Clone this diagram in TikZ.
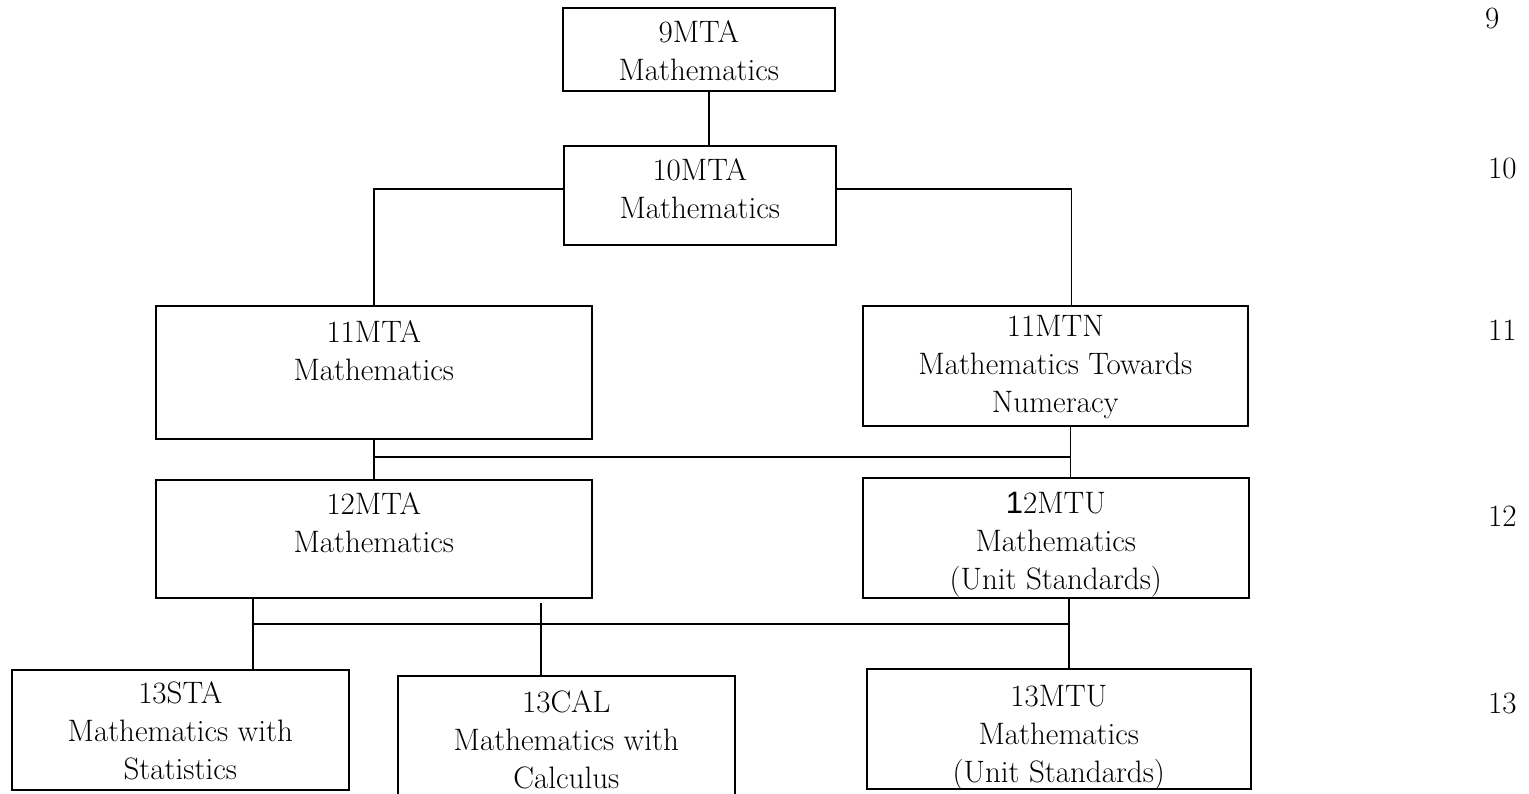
\documentclass[tikz,border=0pt]{standalone}
\usepackage{fontspec}
\newfontfamily\onefont{Liberation Sans}
\begin{document}
\begin{tikzpicture}[x=1pt,y=-1pt,
  box/.style={draw, line width=1.6pt, rectangle, inner sep=0pt, anchor=north west},
  lbl/.style={align=center, font=\fontsize{31pt}{38pt}\selectfont, anchor=base, inner sep=0pt},
  lvl/.style={font=\fontsize{31pt}{36pt}\selectfont, anchor=base west, inner sep=0pt},
  link/.style={line width=1.6pt}]
\useasboundingbox (0,0) rectangle (1529,793);
\clip (0,0) rectangle (1529,793);

% boxes
\node[box, minimum width=272pt, minimum height=83pt]  (b9)   at (562,7)   {};
\node[box, minimum width=272pt, minimum height=99pt]  (b10)  at (563,145) {};
\node[box, minimum width=436pt, minimum height=133pt] (b11a) at (155,305) {};
\node[box, minimum width=385pt, minimum height=120pt] (b11n) at (862,305) {};
\node[box, minimum width=436pt, minimum height=118pt] (b12a) at (155,479) {};
\node[box, minimum width=386pt, minimum height=120pt] (b12u) at (862,477) {};
\node[box, minimum width=337pt, minimum height=120pt] (b13s) at (11,669)  {};
\node[box, minimum width=337pt, minimum height=140pt] (b13c) at (397,675) {};
\node[box, minimum width=384pt, minimum height=120pt] (b13m) at (866,668) {};

% texts (anchor = baseline of last line)
\node[lbl] (t9)   at ([yshift=-73pt]b9.north)   {9MTA\\Mathematics};
\node[lbl] (t10)  at ([yshift=-73pt]b10.north)  {10MTA\\Mathematics};
\node[lbl] (t11a) at ([yshift=-75pt]b11a.north) {11MTA\\Mathematics};
\node[lbl] (t11n) at ([yshift=-107pt]b11n.north) {11MTN\\Mathematics Towards\\Numeracy};
\node[lbl] (t12a) at ([yshift=-73pt]b12a.north) {12MTA\\Mathematics};
\node[lbl] (t12u) at ([yshift=-112pt]b12u.north) {{\onefont 1}2MTU\\Mathematics\\(Unit Standards)};
\node[lbl] (t13s) at ([yshift=-110pt]b13s.north) {13STA\\Mathematics with\\Statistics};
\node[lbl] (t13c) at ([yshift=-113pt]b13c.north) {13CAL\\Mathematics with\\Calculus};
\node[lbl] (t13m) at ([yshift=-114pt]b13m.north) {13MTU\\Mathematics\\(Unit Standards)};

% level numbers
\node[lvl] (l9)  at (1485,28)  {9};
\node[lvl] (l10) at (1488,178) {10};
\node[lvl] (l11) at (1488,340) {11};
\node[lvl] (l12) at (1488,526) {12};
\node[lvl] (l13) at (1488,713) {13};

% connectors
\draw[link] ([xshift=10pt]b9.south) -- ([xshift=10pt]b9.south |- b10.north);
\draw[link] ([yshift=6.5pt]b10.west) -| (b11a.north);
\draw[link] ([yshift=6.5pt]b10.east) -| ([xshift=16pt]b11n.north);
\draw[link] (b11a.south) -- (b12a.north);
\draw[link] ([xshift=15pt]b11n.south) -- ([xshift=15pt]b11n.south |- b12u.north);
\coordinate (m1l) at (b11a.south |- 0,457);
\coordinate (m1r) at ([xshift=15pt]b11n.south |- 0,457);
\draw[link] (m1l) -- (m1r);

\coordinate (s13) at ([xshift=98pt]b12a.south west);
\draw[link] (s13) -- (s13 |- b13s.north);
\coordinate (c13top) at ([xshift=-25.5pt]b13c.north |- 0,603);
\draw[link] (c13top) -- ([xshift=-25.5pt]b13c.north);
\draw[link] ([xshift=13pt]b12u.south) -- ([xshift=13pt]b12u.south |- b13m.north);
\coordinate (m2l) at (s13 |- 0,624);
\coordinate (m2r) at ([xshift=13pt]b12u.south |- 0,624);
\draw[link] (m2l) -- (m2r);
\end{tikzpicture}
\end{document}
